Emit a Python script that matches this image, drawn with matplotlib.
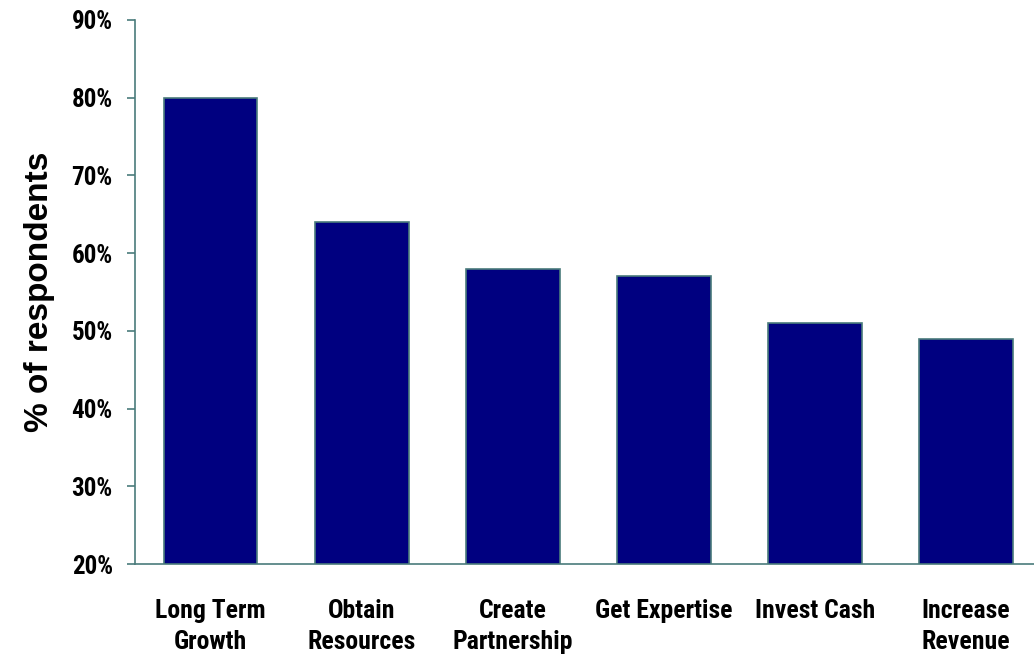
import matplotlib
matplotlib.use("Agg")
import matplotlib.pyplot as plt
from matplotlib.ticker import PercentFormatter

categories = ["Long Term\nGrowth", "Obtain\nResources", "Create\nPartnership",
              "Get Expertise", "Invest Cash", "Increase\nRevenue"]
values = [80, 64, 58, 57, 51, 49]
y_ticks = [20, 30, 40, 50, 60, 70, 80, 90]

plt.rcParams['font.family'] = ['Roboto Condensed', 'Liberation Sans', 'DejaVu Sans']

fig = plt.figure(figsize=(10.34, 6.62), dpi=100)
ax = fig.add_axes([0.1306, 0.148, 1.0074 - 0.1306, 0.970 - 0.148])

edge = "#4a7b7b"
x = list(range(len(categories)))
ax.bar(x, values, width=0.62, color="#000080", edgecolor=edge, linewidth=1.2)
ax.set_ylim(20, 90)
ax.set_xlim(-0.5, 5.5)
ax.set_yticks(y_ticks)
ax.yaxis.set_major_formatter(PercentFormatter(decimals=0))
ax.set_xticks(x)
ax.set_xticklabels(categories, fontsize=18.5, fontweight='bold', linespacing=1.4)
ax.tick_params(axis='x', length=0, pad=25)
ax.tick_params(axis='y', length=6, width=1.2, color=edge, direction='out',
               labelsize=18, pad=10)
for lbl in ax.get_yticklabels():
    lbl.set_fontweight('bold')

for side in ['top', 'right']:
    ax.spines[side].set_visible(False)
for side in ['left', 'bottom']:
    ax.spines[side].set_color(edge)
    ax.spines[side].set_linewidth(1.2)

ax.set_ylabel("% of respondents", fontsize=24, fontweight='bold', labelpad=12,
              family=['Liberation Sans', 'DejaVu Sans'])

fig.savefig("out.png", dpi=100)
